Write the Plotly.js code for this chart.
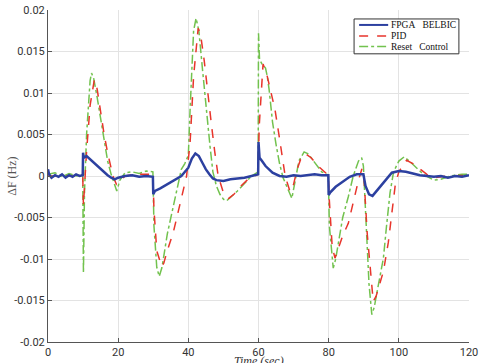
<!DOCTYPE html>
<html>
<head>
<meta charset="utf-8">
<script src="https://cdn.plot.ly/plotly-3.0.1.min.js"></script>
<style>
  html, body { margin: 0; padding: 0; background: #fff; }
  #graph { width: 480px; height: 363px; }
</style>
</head>
<body>
<div id="graph"></div>
<script>
// FPGA BELBIC (blue)
var tBelbic = [0, 0.3, 1, 2, 3, 4, 5, 6, 7, 8, 9, 9.9, 10.0, 10.2, 11, 12, 13, 14, 15, 16, 17, 18, 19, 20,
  22, 24, 26, 28, 29.9, 30.0, 30.5, 32, 34, 36, 38, 40, 41, 42, 43, 44, 45, 46, 47, 48, 50, 52, 54, 56, 58,
  59.9, 60.0, 60.3, 61, 62, 64, 66, 68, 70, 72, 74, 76, 78, 79.9, 80.0, 80.4, 82, 84, 86, 88, 89.9, 90.5,
  91.5, 92.5, 94, 96, 98, 100, 102, 104, 106, 108, 110, 112, 114, 116, 118, 120];
var dfBelbic = [0.0008, 0.0002, -0.0002, 0.0001, -0.0001, 0.0002, -0.0002, 0.0001, -0.0001, 0.0002, 0.0000,
  0.0001, 0.0028, 0.0022, 0.0024, 0.0020, 0.0017, 0.0013, 0.0008, 0.0004, 0.0001, -0.0002, -0.0004, -0.0002,
  0.0000, 0.0001, -0.0001, 0.0000, -0.0001, -0.0022, -0.0018, -0.0015, -0.0010, -0.0005, 0.0000, 0.0010,
  0.0021, 0.0027, 0.0024, 0.0016, 0.0008, 0.0002, -0.0003, -0.0005, -0.0006, -0.0004, -0.0003, -0.0002, 0.0000,
  0.0002, 0.0041, 0.0022, 0.0018, 0.0012, 0.0004, 0.0000, -0.0001, 0.0001, 0.0000, 0.0001, 0.0002, 0.0001,
  0.0001, -0.0023, -0.0020, -0.0013, -0.0007, -0.0001, 0.0002, 0.0002, -0.0012, -0.0022, -0.0024, -0.0016,
  -0.0006, 0.0004, 0.0006, 0.0005, 0.0003, 0.0001, 0.0000, -0.0001, 0.0000, -0.0002, 0.0000, -0.0001, 0.0001];

// PID (red dashed)
var tPid = [0, 9.9, 10.1, 10.5, 11, 12, 13.2, 14, 15, 16, 17, 18, 18.5, 19.5, 20.5, 22, 25, 29.9, 30.2, 31,
  32.4, 33, 34, 35.7, 37, 38, 39.5, 40.5, 41.5, 42.8, 43.5, 44.5, 45.5, 46.5, 47.5, 48.5, 50, 51.5, 53, 55,
  57, 59.9, 60.2, 61.3, 62.5, 63.5, 64.7, 66, 67.6, 69, 70, 71, 72, 73.3, 75, 77, 79.9, 80.2, 81, 81.8, 83,
  84, 85.6, 87, 88.5, 89.5, 90, 91, 92.7, 93.5, 94.5, 95.6, 97, 98, 99, 100, 102.2, 104, 106, 108, 110, 114, 120];
var dfPid = [0.0000, 0.0000, -0.0035, 0.0000, 0.0030, 0.0085, 0.0116, 0.0105, 0.0075, 0.0050, 0.0028, 0.0008,
  0.0000, -0.0010, -0.0006, 0.0000, 0.0002, 0.0002, -0.0040, -0.0090, -0.0109, -0.0105, -0.0090, -0.0068,
  -0.0045, -0.0028, 0.0000, 0.0040, 0.0120, 0.0178, 0.0170, 0.0140, 0.0100, 0.0065, 0.0030, 0.0000, -0.0020,
  -0.0027, -0.0022, -0.0012, -0.0004, 0.0002, 0.0060, 0.0135, 0.0120, 0.0100, 0.0080, 0.0045, 0.0000, -0.0019,
  -0.0010, 0.0008, 0.0020, 0.0027, 0.0022, 0.0012, 0.0001, -0.0030, -0.0085, -0.0099, -0.0085, -0.0072,
  -0.0057, -0.0030, -0.0005, 0.0009, 0.0002, -0.0070, -0.0151, -0.0145, -0.0130, -0.0115, -0.0080, -0.0045,
  -0.0010, 0.0005, 0.0019, 0.0015, 0.0008, 0.0002, -0.0002, 0.0000, 0.0001];

// Reset Control (green dash-dot)
var tReset = [0, 2, 4, 6, 8, 9.9, 10.1, 10.4, 11, 12, 12.4, 13, 14, 15, 16, 17, 18, 19, 19.6, 20.5, 22, 24,
  26, 28, 29.9, 30.2, 31, 31.7, 32.5, 34, 35.7, 37, 38, 39, 40, 40.5, 41, 41.5, 42.2, 43, 44, 45, 46.2, 47,
  48, 49, 50, 50.9, 52, 54, 56, 58, 59.9, 60.0, 60.3, 61, 62, 62.5, 63, 64, 65, 66, 67, 68, 69.5, 70.5, 71.5,
  73, 74, 75, 76, 77, 78, 79.9, 80.2, 81.3, 82, 83, 84, 85.6, 87, 88.5, 89.4, 89.9, 90.5, 91.5, 92.3, 93, 94,
  95.6, 96.5, 97.5, 98.5, 100, 101.5, 103, 105, 107, 110, 112, 114, 116, 118, 120];
var dfReset = [0.0002, 0.0004, -0.0001, 0.0003, 0.0000, 0.0002, -0.0117, -0.0020, 0.0050, 0.0115, 0.0124,
  0.0118, 0.0095, 0.0068, 0.0042, 0.0018, 0.0002, -0.0012, -0.0018, -0.0005, 0.0004, 0.0005, 0.0003, 0.0006,
  0.0005, -0.0060, -0.0110, -0.0121, -0.0110, -0.0070, -0.0037, -0.0010, 0.0008, 0.0015, 0.0025, 0.0080,
  0.0140, 0.0175, 0.0190, 0.0175, 0.0130, 0.0085, 0.0035, 0.0005, -0.0012, -0.0022, -0.0028, -0.0030, -0.0026,
  -0.0018, -0.0009, 0.0000, 0.0005, 0.0172, 0.0140, 0.0135, 0.0130, 0.0120, 0.0105, 0.0065, 0.0038, 0.0015,
  -0.0002, -0.0012, -0.0027, -0.0005, 0.0018, 0.0029, 0.0027, 0.0022, 0.0016, 0.0010, 0.0005, 0.0001, -0.0060,
  -0.0111, -0.0100, -0.0075, -0.0050, -0.0025, 0.0000, 0.0018, 0.0022, 0.0012, -0.0040, -0.0130, -0.0167,
  -0.0158, -0.0135, -0.0099, -0.0060, -0.0020, 0.0005, 0.0018, 0.0023, 0.0018, 0.0010, 0.0002, -0.0005,
  -0.0004, -0.0001, 0.0001, 0.0002, 0.0002];

var seriesNames = ['FPGA\u00a0\u00a0\u00a0BELBIC', 'PID', 'Reset\u00a0\u00a0\u00a0Control'];
var seriesColors = ['#2c40a0', '#e8352c', '#72c24e'];
var seriesDash = ['solid', 'dash', 'dashdot'];
var seriesWidth = [2.5, 1.5, 1.5];

var xTicks = [0, 20, 40, 60, 80, 100, 120];
var yTicks = [-0.02, -0.015, -0.01, -0.005, 0, 0.005, 0.01, 0.015, 0.02];
var yTickText = ['-0.02', '-0.015', '-0.01', '-0.005', '0', '0.005', '0.01', '0.015', '0.02'];

function trace(x, y, i) {
  return {
    x: x, y: y, type: 'scatter', mode: 'lines', name: seriesNames[i], showlegend: false,
    line: {color: seriesColors[i], width: seriesWidth[i], dash: seriesDash[i]}
  };
}

// green under red under blue
var data = [trace(tReset, dfReset, 2), trace(tPid, dfPid, 1), trace(tBelbic, dfBelbic, 0)];

// hand-made legend box (plotly's own legend rows are too tall here)
var legX0 = 0.727, legX1 = 0.976, legY0 = 0.868, legY1 = 0.973;
var rowY = [0.955, 0.922, 0.890];
var shapes = [{
  type: 'rect', xref: 'paper', yref: 'paper', x0: legX0, x1: legX1, y0: legY0, y1: legY1,
  fillcolor: '#fff', line: {color: '#333', width: 1}, layer: 'above'
}];
var annotations = [];
for (var i = 0; i < 3; i++) {
  shapes.push({
    type: 'line', xref: 'paper', yref: 'paper', x0: 0.739, x1: 0.808, y0: rowY[i], y1: rowY[i],
    line: {color: seriesColors[i], width: i === 0 ? 2 : 1.5, dash: seriesDash[i]}, layer: 'above'
  });
  annotations.push({
    xref: 'paper', yref: 'paper', x: 0.812, y: rowY[i], xanchor: 'left', yanchor: 'middle',
    text: seriesNames[i], showarrow: false, borderpad: 0,
    font: {family: 'Liberation Serif, serif', size: 9.5, color: '#111'}
  });
}

// axis titles as annotations so they can sit where the reference has them
annotations.push({
  xref: 'paper', yref: 'paper', x: 0.5, y: -0.058, xanchor: 'center', yanchor: 'middle',
  text: '<i>Time (sec)</i>', showarrow: false,
  font: {family: 'Liberation Serif, serif', size: 12, color: '#333'}
});
annotations.push({
  xref: 'paper', yref: 'paper', x: -0.086, y: 0.5, xanchor: 'center', yanchor: 'middle',
  text: '\u0394F (Hz)', showarrow: false, textangle: -90,
  font: {family: 'Liberation Serif, serif', size: 12, color: '#555'}
});

var layout = {
  width: 480, height: 363,
  margin: {l: 48, r: 11, t: 10, b: 21},
  paper_bgcolor: '#fff', plot_bgcolor: '#fff',
  showlegend: false,
  shapes: shapes,
  annotations: annotations,
  xaxis: {
    range: [0, 120], tickvals: xTicks,
    showgrid: true, gridcolor: '#e3e3e3', gridwidth: 1,
    zeroline: false, showline: true, linecolor: '#555', linewidth: 1,
    ticks: 'inside', ticklen: 4, tickcolor: '#555',
    tickfont: {family: 'Roboto, Arial, sans-serif', size: 11, color: '#333'},
    automargin: false
  },
  yaxis: {
    range: [-0.02, 0.02], tickvals: yTicks, ticktext: yTickText,
    showgrid: true, gridcolor: '#e3e3e3', gridwidth: 1,
    zeroline: false, showline: true, linecolor: '#555', linewidth: 1,
    ticks: 'inside', ticklen: 4, tickcolor: '#555',
    tickfont: {family: 'Roboto, Arial, sans-serif', size: 11, color: '#333'},
    automargin: false
  }
};

Plotly.newPlot('graph', data, layout, {displayModeBar: false, staticPlot: true});
</script>
</body>
</html>
